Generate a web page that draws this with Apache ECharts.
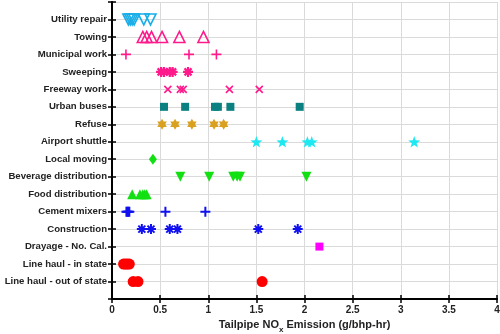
<!DOCTYPE html>
<html>
<head>
<meta charset="utf-8">
<script src="https://cdn.jsdelivr.net/npm/echarts@6/dist/echarts.min.js"></script>
<style>html,body{margin:0;padding:0;background:#fff}#c{width:500px;height:334px}</style>
</head>
<body>
<div id="c"></div>
<script>
// Categories, top to bottom
const categories = ["Utility repair","Towing","Municipal work","Sweeping","Freeway work","Urban buses","Refuse","Airport shuttle","Local moving","Beverage distribution","Food distribution","Cement mixers","Construction","Drayage - No. Cal.","Line haul - in state","Line haul - out of state"];
const xTicks = [0, 0.5, 1, 1.5, 2, 2.5, 3, 3.5, 4];

// NOx values (g/bhp-hr) per category
const utilityRepair = [0.17, 0.19, 0.21, 0.23, 0.33, 0.40];
const towing = [0.32, 0.36, 0.41, 0.52, 0.70, 0.95];
const municipalWork = [0.145, 0.80, 1.085];
const sweeping = [0.51, 0.54, 0.60, 0.63, 0.79];
const freewayWork = [0.58, 0.71, 0.74, 1.22, 1.53];
const urbanBuses = [0.54, 0.76, 1.07, 1.10, 1.23, 1.95];
const refuse = [0.52, 0.655, 0.83, 1.06, 1.16];
const airportShuttle = [1.50, 1.77, 2.03, 2.075, 3.14];
const localMoving = [0.425];
const beverageDistribution = [0.71, 1.01, 1.26, 1.30, 1.33, 2.02];
const foodDistribution = [0.21, 0.29, 0.32, 0.34, 0.36];
const cementMixers = [0.15, 0.16, 0.17, 0.18, 0.555, 0.97];
const construction = [0.31, 0.405, 0.60, 0.68, 1.52, 1.93];
const drayage = [2.155];
const lineHaulInState = [0.12, 0.14, 0.16, 0.18];
const lineHaulOutOfState = [0.22, 0.27, 1.56];

const PLUS = 'path://M5,0L5,10M0,5L10,5';
const CROSS = 'path://M0,0L10,10M10,0L0,10';
const ASTER = 'path://M5,0L5,10M0,5L10,5M1.5,1.5L8.5,8.5M8.5,1.5L1.5,8.5';
const HEXA = 'path://M5,0L6.443,2.5L9.33,2.5L7.887,5L9.33,7.5L6.443,7.5L5,10L3.557,7.5L0.67,7.5L2.113,5L0.67,2.5L3.557,2.5Z';
const STAR5 = 'path://M5,0L6.176,3.382L9.755,3.455L6.902,5.618L7.939,9.045L5,7L2.061,9.045L3.098,5.618L0.245,3.455L3.824,3.382Z';

const PINK = '#ff1a8c';
const specs = [
  {d: utilityRepair, sym: 'triangle', rot: 180, size: 11, color: '#1aaee8', open: true},
  {d: towing, sym: 'triangle', rot: 0, size: 11, color: PINK, open: true},
  {d: municipalWork, sym: PLUS, size: 10, color: PINK, stroke: true},
  {d: sweeping, sym: ASTER, size: 10, color: PINK, stroke: true, bw: 2.2},
  {d: freewayWork, sym: CROSS, size: 7, color: PINK, stroke: true},
  {d: urbanBuses, sym: 'rect', size: 8, color: '#0b8080'},
  {d: refuse, sym: HEXA, size: 11, color: '#daa020'},
  {d: airportShuttle, sym: STAR5, size: 12, color: '#1ee8f2'},
  {d: localMoving, sym: 'diamond', size: [8, 11], color: '#12e012'},
  {d: beverageDistribution, sym: 'triangle', rot: 180, size: 10, color: '#12e012'},
  {d: foodDistribution, sym: 'triangle', rot: 0, size: 10, color: '#12e012'},
  {d: cementMixers, sym: PLUS, size: 10, color: '#1010f0', stroke: true, bw: 2},
  {d: construction, sym: ASTER, size: 10, color: '#1010f0', stroke: true, bw: 2},
  {d: drayage, sym: 'rect', size: 8, color: '#ff00ff'},
  {d: lineHaulInState, sym: 'circle', size: 11, color: '#ff0000'},
  {d: lineHaulOutOfState, sym: 'circle', size: 11, color: '#ff0000'}
];

const N = categories.length;
const series = specs.map((s, i) => {
  const row = N - i;
  let itemStyle;
  if (s.open) itemStyle = {color: 'rgba(255,255,255,0)', borderColor: s.color, borderWidth: 1.6, opacity: 1};
  else if (s.stroke) itemStyle = {color: 'none', borderColor: s.color, borderWidth: s.bw || 1.6, opacity: 1};
  else itemStyle = {color: s.color, opacity: 1};
  return {
    name: categories[i],
    type: 'scatter',
    symbol: s.sym,
    symbolSize: s.size,
    symbolRotate: s.rot || 0,
    symbolKeepAspect: true,
    itemStyle: itemStyle,
    data: s.d.map(v => [v, row]),
    silent: true
  };
});

const lab = {fontFamily: 'Liberation Sans, Arial, sans-serif', fontWeight: 'bold', color: '#222'};
const chart = echarts.init(document.getElementById('c'), null, {renderer: 'canvas'});
chart.setOption({
  animation: false,
  backgroundColor: '#fff',
  grid: {left: 112, right: 3, top: 2, bottom: 35, containLabel: false, outerBoundsMode: 'none'},
  xAxis: [{
    type: 'value', min: xTicks[0], max: xTicks[xTicks.length - 1], interval: 0.5,
    axisLine: {show: true, lineStyle: {color: '#000', width: 2}},
    axisTick: {show: true, inside: true, length: 4, lineStyle: {color: '#000', width: 1.5}},
    axisLabel: Object.assign({fontSize: 10, margin: 6}, lab),
    splitLine: {show: true, lineStyle: {color: '#dadada', width: 1}},
    name: '{a|Tailpipe NO}{s|x}{a| Emission (g/bhp-hr)}',
    nameLocation: 'middle', nameGap: 18,
    nameTextStyle: {rich: {
      a: Object.assign({fontSize: 11}, lab),
      s: Object.assign({fontSize: 8, padding: [8, 0, 0, 0]}, lab)
    }}
  }, {
    type: 'value', position: 'top', min: 0, max: 4, interval: 0.5,
    axisLine: {show: true, lineStyle: {color: '#000', width: 1.5}},
    axisTick: {show: true, inside: true, length: 4, lineStyle: {color: '#000', width: 1.5}},
    axisLabel: {show: false}, splitLine: {show: false}
  }],
  yAxis: [{
    type: 'value', min: 0, max: N + 1, interval: 1,
    axisLine: {show: true, lineStyle: {color: '#000', width: 2}},
    axisTick: {show: true, inside: true, length: 4, lineStyle: {color: '#000', width: 1.5}},
    axisLabel: Object.assign({fontSize: 9.6, margin: 5,
      formatter: v => (v >= 1 && v <= N) ? categories[N - v] : ''}, lab),
    splitLine: {show: true, lineStyle: {color: '#dadada', width: 1}}
  }, {
    type: 'value', position: 'right', min: 0, max: N + 1, interval: 1,
    axisLine: {show: true, lineStyle: {color: '#000', width: 1.5}},
    axisTick: {show: true, inside: true, length: 4, lineStyle: {color: '#000', width: 1.5}},
    axisLabel: {show: false}, splitLine: {show: false}
  }],
  series: series
});
</script>
</body>
</html>
